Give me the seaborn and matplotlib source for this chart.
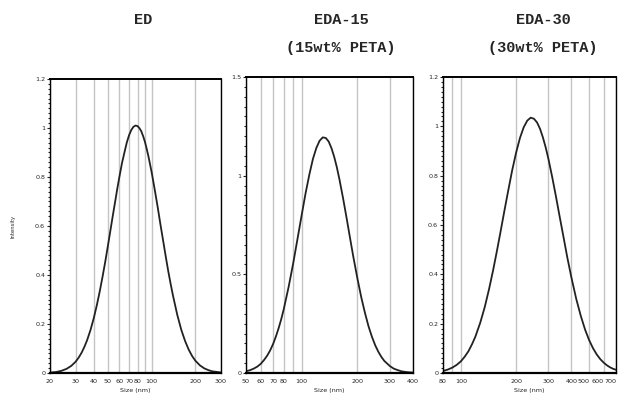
import matplotlib
matplotlib.use("Agg")
import matplotlib.pyplot as plt
import seaborn as sns
import pandas as pd
from matplotlib.ticker import FixedLocator, FixedFormatter, NullLocator, AutoMinorLocator
from matplotlib import font_manager

# ---------------- data ----------------
ed_size = [20, 22, 24, 26, 28, 30, 31.5, 33, 34.5, 36, 38, 40, 42, 44, 46, 48, 50, 52,
           54, 56, 58, 60, 62.5, 65, 67.5, 70, 72.5, 75, 77.5, 80, 82.5, 85, 87.5, 90,
           92.5, 95, 100, 105, 110, 115, 120, 125, 130, 135, 140, 150, 160, 170, 180,
           190, 200, 215, 230, 245, 260, 300]
ed_int = [0.002, 0.004, 0.009, 0.017, 0.029, 0.046, 0.063, 0.083, 0.107, 0.134, 0.176,
          0.224, 0.277, 0.334, 0.394, 0.455, 0.518, 0.58, 0.640, 0.696, 0.751, 0.80,
          0.856, 0.90, 0.941, 0.971, 0.992, 1.005, 1.01, 1.008, 0.999, 0.986, 0.966,
          0.943, 0.915, 0.885, 0.82, 0.749, 0.678, 0.606, 0.54, 0.476, 0.417, 0.365,
          0.318, 0.238, 0.176, 0.130, 0.095, 0.069, 0.05, 0.031, 0.019, 0.012, 0.007,
          0.002]

eda15_size = [50, 52.5, 55, 57.5, 60, 62.5, 65, 67.5, 70, 72.5, 75, 77.5, 80, 85, 90, 95,
              100, 105, 110, 115, 120, 125, 130, 135, 140, 145, 150, 155, 160, 167.5,
              175, 182.5, 190, 200, 210, 220, 230, 240, 250, 260, 270, 280, 300, 315,
              330, 345, 360, 375, 400]
eda15_int = [0.009, 0.014, 0.022, 0.032, 0.046, 0.065, 0.087, 0.114, 0.146, 0.184, 0.226,
             0.272, 0.323, 0.436, 0.556, 0.681, 0.80, 0.911, 1.005, 1.084, 1.14, 1.177,
             1.194, 1.191, 1.173, 1.139, 1.095, 1.042, 0.982, 0.885, 0.785, 0.686, 0.592,
             0.481, 0.384, 0.304, 0.236, 0.183, 0.140, 0.107, 0.081, 0.061, 0.035, 0.022,
             0.015, 0.009, 0.006, 0.004, 0.002]

eda30_size = [80, 85, 90, 95, 100, 105, 110, 115, 120, 127.5, 135, 142.5, 150, 157.5, 165,
              172.5, 180, 190, 200, 210, 220, 230, 240, 250, 260, 270, 280, 290, 300, 315,
              330, 345, 360, 380, 400, 425, 450, 475, 500, 525, 550, 575, 600, 625, 650,
              675, 700]
eda30_int = [0.008, 0.014, 0.022, 0.033, 0.047, 0.066, 0.088, 0.116, 0.147, 0.203, 0.267,
             0.340, 0.417, 0.497, 0.577, 0.655, 0.728, 0.818, 0.893, 0.953, 0.996, 1.023,
             1.035, 1.031, 1.016, 0.990, 0.955, 0.914, 0.868, 0.792, 0.714, 0.636, 0.563,
             0.469, 0.388, 0.301, 0.232, 0.176, 0.133, 0.100, 0.075, 0.056, 0.042, 0.031,
             0.023, 0.017, 0.013]

titles = ["ED", "EDA-15\n(15wt% PETA)", "EDA-30\n(30wt% PETA)"]

ed_xticks = [20, 30, 40, 50, 60, 70, 80, 90, 100, 200, 300]
ed_xlabels = ["20", "30", "40", "50", "60", "70", "80", "", "100", "200", "300"]
eda15_xticks = [50, 60, 70, 80, 90, 100, 200, 300, 400]
eda15_xlabels = ["50", "60", "70", "80", "", "100", "200", "300", "400"]
eda30_xticks = [80, 90, 100, 200, 300, 400, 500, 600, 700]
eda30_xlabels = ["80", "", "100", "200", "300", "400", "500", "600", "700"]

ed_yticks = [0, 0.2, 0.4, 0.6, 0.8, 1.0, 1.2]
ed_ylabels = ["0", "0.2", "0.4", "0.6", "0.8", "1", "1.2"]
eda15_yticks = [0, 0.5, 1.0, 1.5]
eda15_ylabels = ["0", "0.5", "1", "1.5"]

# ---------------- figure ----------------
sns.set_style("white")
plt.rcParams["font.family"] = ["DejaVu Sans"]

names = {f.name for f in font_manager.fontManager.ttflist}
small_family = "Liberation Sans Narrow" if "Liberation Sans Narrow" in names else "DejaVu Sans"
narrow = small_family != "DejaVu Sans"
tick_size = 5.6 if narrow else 4.6

fig = plt.figure(figsize=(6.18, 4.11), dpi=100)

rects = [
    [50 / 618, 1 - 373 / 411, 171 / 618, 294 / 411],
    [246 / 618, 1 - 373 / 411, 167 / 618, 296 / 411],
    [443 / 618, 1 - 373 / 411, 173 / 618, 296 / 411],
]
panels = [
    (ed_size, ed_int, ed_xticks, ed_xlabels, ed_yticks, ed_ylabels, (20, 300), 1.2),
    (eda15_size, eda15_int, eda15_xticks, eda15_xlabels, eda15_yticks, eda15_ylabels, (50, 400), 1.5),
    (eda30_size, eda30_int, eda30_xticks, eda30_xlabels, ed_yticks, ed_ylabels, (80, 700), 1.2),
]

for i, (rect, (xs, ys, xt, xl, yt, yl, xlim, ymax)) in enumerate(zip(rects, panels)):
    ax = fig.add_axes(rect)
    df = pd.DataFrame({"Size": xs, "Intensity": ys})
    sns.lineplot(data=df, x="Size", y="Intensity", ax=ax, color="#222222", lw=1.3,
                 solid_joinstyle="round", solid_capstyle="round")
    ax.set_xscale("log")
    ax.set_xlim(*xlim)
    ax.set_ylim(0, ymax)
    ax.xaxis.set_major_locator(FixedLocator(xt))
    ax.xaxis.set_major_formatter(FixedFormatter(xl))
    ax.xaxis.set_minor_locator(NullLocator())
    ax.set_yticks(yt)
    ax.set_yticklabels(yl)
    ax.yaxis.set_minor_locator(AutoMinorLocator(10))
    ax.xaxis.grid(True, color="#c4c4c4", lw=1.0)
    ax.yaxis.grid(False)
    ax.set_axisbelow(True)
    ax.tick_params(axis="x", which="major", length=0, labelsize=tick_size, pad=4)
    ax.tick_params(axis="y", which="major", length=2.5, width=0.8, labelsize=tick_size, pad=1,
                   direction="out", left=True)
    ax.tick_params(axis="y", which="minor", length=1.5, width=0.8, direction="out", left=True)
    for lab in ax.get_xticklabels() + ax.get_yticklabels():
        lab.set_family(small_family)
    for s in ax.spines.values():
        s.set_visible(True)
        s.set_color("black")
        s.set_linewidth(1.0)
    ax.spines["bottom"].set_linewidth(1.6)
    ax.spines["top"].set_linewidth(1.4)
    ax.set_xlabel("Size (nm)", fontsize=tick_size, labelpad=3, family=small_family)
    if i == 0:
        ax.set_ylabel("Intensity", fontsize=tick_size - 0.8, labelpad=14, family=small_family)
    else:
        ax.set_ylabel("")
    if i == 2:
        labs = ax.get_xticklabels()
        labs[-1].set_horizontalalignment("right")
        labs[-2].set_horizontalalignment("right")
        if not narrow:
            labs[-3].set_horizontalalignment("right")

# titles
fig.text(143 / 618, 1 - 20 / 411, "ED", ha="center", va="center",
         family="Liberation Mono", fontsize=11, fontweight="bold")
for xc, t in [(341 / 618, titles[1]), (543 / 618, titles[2])]:
    l1, l2 = t.split("\n")
    fig.text(xc, 1 - 20 / 411, l1, ha="center", va="center",
             family="Liberation Mono", fontsize=11, fontweight="bold")
    fig.text(xc, 1 - 48 / 411, l2, ha="center", va="center",
             family="Liberation Mono", fontsize=11, fontweight="bold")

fig.savefig("out.png", dpi=100)
